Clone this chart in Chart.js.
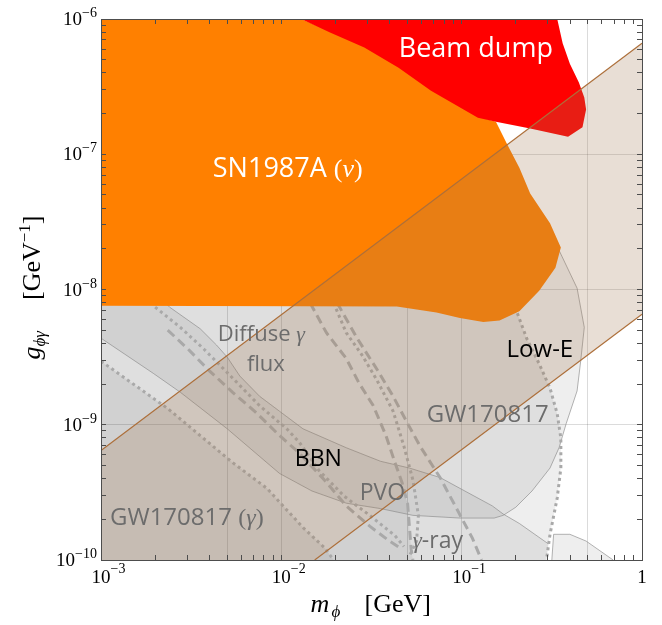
<!DOCTYPE html>
<html>
<head>
<meta charset="utf-8">
<script src="https://cdn.jsdelivr.net/npm/chart.js@4.4.1/dist/chart.umd.min.js"></script>
<style>
html,body{margin:0;padding:0;background:#ffffff;overflow:hidden;}
canvas{display:block;}
</style>
</head>
<body>
<canvas id="chart" width="662" height="625"></canvas>
<script>
// Every outline is a list of [log10(m_phi / GeV), log10(g_phi_gamma / GeV^-1)].
const sn1987aNu = [[-3,-6],[-1.89,-6],[-1.73,-6.09],[-1.54,-6.20],[-1.35,-6.35],[-1.17,-6.52],[-0.91,-6.72],[-0.81,-6.76],[-0.75,-6.92],[-0.68,-7.10],[-0.62,-7.29],[-0.51,-7.51],[-0.45,-7.69],[-0.48,-7.84],[-0.57,-8.01],[-0.68,-8.16],[-0.79,-8.23],[-0.88,-8.24],[-1.01,-8.21],[-1.14,-8.17],[-1.36,-8.125],[-3,-8.12]];
const beamDump = [[-1.89,-6],[-0.47,-6],[-0.44,-6.18],[-0.40,-6.33],[-0.35,-6.47],[-0.32,-6.58],[-0.31,-6.67],[-0.33,-6.80],[-0.41,-6.87],[-0.62,-6.81],[-0.81,-6.76],[-0.91,-6.73],[-1.17,-6.53],[-1.35,-6.36],[-1.54,-6.21],[-1.73,-6.10]];
const bandUpper = [[-3,-9.19],[0,-6.18]];
const bandLower = [[-1.815,-10],[0,-8.183]];
const bandArea = [[-3,-9.19],[0,-6.18],[0,-8.183],[-1.815,-10],[-3,-10]];
const gw170817 = [[-3,-8.0],[-3,-8.36],[-2.71,-8.62],[-2.56,-8.76],[-2.30,-9.03],[-2.01,-9.36],[-1.83,-9.49],[-1.64,-9.58],[-1.45,-9.62],[-1.27,-9.67],[-1.01,-9.69],[-0.82,-9.69],[-0.77,-9.67],[-0.70,-9.61],[-0.61,-9.49],[-0.51,-9.32],[-0.46,-9.17],[-0.42,-8.99],[-0.36,-8.75],[-0.34,-8.53],[-0.32,-8.28],[-0.36,-7.99],[-0.46,-7.71],[-0.51,-7.56],[-0.68,-7.34]];
const lowE = [[-3,-8.0],[-3,-10],[-0.53,-10],[-0.51,-9.81],[-0.47,-9.54],[-0.45,-9.32],[-0.45,-9.10],[-0.47,-8.92],[-0.51,-8.73],[-0.57,-8.55],[-0.64,-8.36],[-0.69,-8.18],[-0.76,-8.01],[-1.0,-7.9]];
const gammaRayEdge = [[-2.68,-8.05],[-2.62,-8.13],[-2.45,-8.29],[-2.36,-8.41],[-2.30,-8.50],[-2.23,-8.64],[-2.12,-8.79],[-2.01,-8.90],[-1.88,-9.03],[-1.64,-9.17],[-1.45,-9.27],[-1.29,-9.32],[-1.12,-9.39],[-1.01,-9.47],[-0.83,-9.60],[-0.77,-9.66],[-0.68,-9.73],[-0.52,-9.88]];
const gwGammaEdge = [[-3,-8.53],[-2.82,-8.70],[-2.63,-8.88],[-2.45,-9.08],[-2.27,-9.28],[-2.08,-9.47],[-1.88,-9.76],[-1.76,-9.91],[-1.71,-10]];
const highMassPatch = [[-0.50,-10],[-0.49,-9.81],[-0.40,-9.81],[-0.31,-9.86],[-0.16,-10]];
const pvoPatch = [[-1.815,-10],[-1.32,-9.505],[-1.30,-9.58],[-1.29,-9.75],[-1.28,-9.92],[-1.27,-10]];
const dottedA = [[-2.70,-8.13],[-2.56,-8.28],[-2.43,-8.44],[-2.34,-8.56],[-2.23,-8.71],[-2.12,-8.86],[-1.97,-9.03],[-1.90,-9.13],[-1.79,-9.34],[-1.65,-9.53],[-1.51,-9.67],[-1.37,-9.82],[-1.32,-9.90]];
const dashedA = [[-2.63,-8.30],[-2.51,-8.45],[-2.40,-8.60],[-2.27,-8.76],[-2.14,-8.91],[-2.01,-9.08],[-1.90,-9.21],[-1.76,-9.41],[-1.64,-9.60],[-1.51,-9.75],[-1.40,-9.86],[-1.33,-9.92]];
const dashedB = [[-1.84,-8.10],[-1.75,-8.32],[-1.64,-8.51],[-1.57,-8.69],[-1.49,-8.86],[-1.42,-9.08],[-1.37,-9.28],[-1.33,-9.43],[-1.30,-9.58],[-1.29,-9.75],[-1.28,-9.92],[-1.27,-10]];
const dottedB = [[-1.71,-8.10],[-1.64,-8.32],[-1.55,-8.49],[-1.47,-8.67],[-1.38,-8.90],[-1.32,-9.16],[-1.27,-9.41],[-1.24,-9.67],[-1.25,-9.86],[-1.29,-9.97]];
const dashedC = [[-1.69,-8.10],[-1.58,-8.36],[-1.47,-8.59],[-1.38,-8.79],[-1.30,-8.99],[-1.23,-9.16],[-1.12,-9.39],[-1.02,-9.64],[-0.94,-9.84],[-0.89,-10]];

// axis ticks
const xTickValues = [1e-3, 1e-2, 1e-1, 1];
const xTickBases = ['10','10','10','1'];
const xTickExps = ['−3','−2','−1',''];
const yTickValues = [1e-10, 1e-9, 1e-8, 1e-7, 1e-6];
const yTickBases = ['10','10','10','10','10'];
const yTickExps = ['−10','−9','−8','−7','−6'];
const xGridValues = [5e-3, 1e-2, 5e-2, 1e-1, 5e-1];
const yGridValues = [1e-9, 1e-8, 1e-7];

const SANS = '"Open Sans", "Noto Sans", sans-serif';
const SERIF = '"Liberation Serif", "DejaVu Serif", serif';
const GRAYTXT = '#6c6c6c';
const regionLabels = [
  {at:[-1.349,-6.281], color:'#ffffff', parts:[{t:'Beam dump', f:'27px '+SANS}]},
  {at:[-2.380,-7.170], color:'#ffffff', parts:[{t:'SN1987A ', f:'27px '+SANS},{t:'(', f:'26px '+SERIF},{t:'ν', f:'italic 26px '+SERIF},{t:')', f:'26px '+SERIF}]},
  {at:[-2.352,-8.378], color:GRAYTXT, parts:[{t:'Diffuse ', f:'22px '+SANS},{t:'γ', f:'italic 22px '+SERIF}]},
  {at:[-2.191,-8.600], color:GRAYTXT, parts:[{t:'flux', f:'22px '+SANS}]},
  {at:[-0.751,-8.496], color:'#000000', parts:[{t:'Low-E', f:'24px '+SANS}]},
  {at:[-1.194,-8.978], color:GRAYTXT, parts:[{t:'GW170817', f:'24px '+SANS}]},
  {at:[-1.925,-9.304], color:'#000000', parts:[{t:'BBN', f:'23px '+SANS}]},
  {at:[-1.565,-9.556], color:GRAYTXT, parts:[{t:'PVO', f:'23px '+SANS}]},
  {at:[-1.271,-9.911], color:GRAYTXT, parts:[{t:'γ', f:'italic 23px '+SERIF},{t:'-ray', f:'23px '+SANS}]},
  {at:[-2.950,-9.741], color:GRAYTXT, parts:[{t:'GW170817 ', f:'24px '+SANS},{t:'(', f:'24px '+SERIF},{t:'γ', f:'italic 24px '+SERIF},{t:')', f:'24px '+SERIF}]}
];

function pts(list){ return list.map(p => ({x: Math.pow(10, p[0]), y: Math.pow(10, p[1])})); }
function minorTicks(e0, e1){ const out=[]; for(let e=e0;e<e1;e++){ for(let k=1;k<10;k++) out.push(k*Math.pow(10,e)); } out.push(Math.pow(10,e1)); return out; }

const SHADE = 'rgba(0,0,0,0.068)';
const CLEAR = 'rgba(0,0,0,0)';
function area(list, color, order){ return {data: pts(list), showLine:true, fill:'shape', backgroundColor:color, borderColor:CLEAR, borderWidth:0, pointRadius:0, order:order}; }
function edge(list, color, width, dash, order){ return {data: pts(list), showLine:true, fill:false, borderColor:color, backgroundColor:CLEAR, borderWidth:width, borderDash:dash, borderCapStyle:'butt', pointRadius:0, order:order}; }

const LINEGRAY = 'rgba(135,135,135,0.8)';
const DASHGRAY = '#a9a9a9';
const DOT = [3,3.4];
const DASH = [9,5];
const datasets = [
  area(lowE, SHADE, 100),
  area(gw170817, SHADE, 99),
  area(gammaRayEdge.concat([[-0.53,-10],[-3,-10],[-3,-8.0]]), SHADE, 98),
  area(gwGammaEdge.concat([[-3,-10]]), SHADE, 97),
  area(highMassPatch, SHADE, 96),
  area(pvoPatch, SHADE, 96),
  edge(gw170817.slice(1, 23), LINEGRAY, 0.8, [], 95),
  edge(gammaRayEdge, LINEGRAY, 0.8, [], 95),
  edge(highMassPatch, LINEGRAY, 0.8, [], 95),
  edge(lowE.slice(2, 13).reverse(), DASHGRAY, 3, DOT, 94),
  edge(gwGammaEdge, DASHGRAY, 3, DOT, 94),
  edge(dottedA, DASHGRAY, 3, DOT, 94),
  edge(dottedB, DASHGRAY, 3, DOT, 94),
  edge(dashedA, DASHGRAY, 3, DASH, 94),
  edge(dashedB, DASHGRAY, 3, DASH, 94),
  edge(dashedC, DASHGRAY, 3, DASH, 94),
  area(sn1987aNu, '#ff8000', 90),
  area(beamDump, '#ff0000', 89),
  area(bandArea, 'rgba(161,120,83,0.244)', 80),
  edge(bandUpper, '#ad6f3a', 1.2, [], 70),
  edge(bandLower, '#ad6f3a', 1.2, [], 70)
];

function frameAxis(pos, e0, e1, horizontal, size){
  return {
    type:'logarithmic', position:pos, min:Math.pow(10,e0), max:Math.pow(10,e1),
    afterBuildTicks: s => { s.ticks = minorTicks(e0, e1).map(v => ({value:v})); },
    ticks:{display:false},
    grid:{display:true, drawOnChartArea:false, drawTicks:true, tickLength:-5, tickColor:'#4d4d4d', tickWidth:1, z:1},
    border:{display:true, color:'#4d4d4d', width:1, z:1},
    afterFit: s => { if (horizontal) s.height = size; else s.width = size; }
  };
}
function gridAxis(pos, e0, e1, horizontal, values){
  return {
    type:'logarithmic', position:pos, min:Math.pow(10,e0), max:Math.pow(10,e1),
    afterBuildTicks: s => { s.ticks = values.map(v => ({value:v})); },
    ticks:{display:false},
    grid:{display:true, drawOnChartArea:true, drawTicks:false, color:'rgba(0,0,0,0.14)', lineWidth:1, z:-1},
    border:{display:false},
    afterFit: s => { if (horizontal) s.height = 0; else s.width = 0; }
  };
}

function drawParts(ctx, x, y, parts){
  for (const p of parts){ ctx.font = p.f; ctx.fillText(p.t, x, y + (p.dy || 0)); x += ctx.measureText(p.t).width; }
}

const textPlugin = {
  id:'texts',
  afterDraw(chart){
    const ctx = chart.ctx, xs = chart.scales.x, ys = chart.scales.y, area = chart.chartArea;
    ctx.save();
    ctx.textBaseline = 'alphabetic'; ctx.textAlign = 'left';
    for (const lab of regionLabels){
      ctx.fillStyle = lab.color;
      drawParts(ctx, xs.getPixelForValue(Math.pow(10, lab.at[0])), ys.getPixelForValue(Math.pow(10, lab.at[1])), lab.parts);
    }
    ctx.fillStyle = '#000000';
    xTickValues.forEach((v, i) => {
      const px = xs.getPixelForValue(v);
      ctx.font = '19px ' + SERIF;
      const wb = ctx.measureText(xTickBases[i]).width;
      ctx.fillText(xTickBases[i], px - wb/2, area.bottom + 23);
      ctx.font = '14px ' + SERIF;
      ctx.fillText(xTickExps[i], px + wb/2, area.bottom + 13);
    });
    yTickValues.forEach((v, i) => {
      const py = ys.getPixelForValue(v);
      const right = area.left - 4;
      ctx.font = '14px ' + SERIF;
      const we = ctx.measureText(yTickExps[i]).width;
      ctx.fillText(yTickExps[i], right - we, py - 2);
      ctx.font = '19px ' + SERIF;
      const wb = ctx.measureText(yTickBases[i]).width;
      ctx.fillText(yTickBases[i], right - we - wb, py + 6);
    });
    const cx = (area.left + area.right) / 2;
    const by = 612;
    drawParts(ctx, cx - 61, by, [{t:'m', f:'italic 26px ' + SERIF}]);
    drawParts(ctx, cx - 40, by, [{t:'ϕ', f:'italic 17px ' + SERIF, dy:5}]);
    drawParts(ctx, cx - 7, by, [{t:'[GeV]', f:'26px ' + SERIF}]);
    const cy = (area.top + area.bottom) / 2;
    ctx.translate(40, cy);
    ctx.rotate(-Math.PI/2);
    drawParts(ctx, -70, 0, [{t:'g', f:'italic 26px ' + SERIF}]);
    drawParts(ctx, -57, 0, [{t:'ϕγ', f:'italic 17px ' + SERIF, dy:5}]);
    drawParts(ctx, -10.5, 0, [{t:'[GeV', f:'26px ' + SERIF},{t:'−1', f:'17px ' + SERIF, dy:-10},{t:']', f:'26px ' + SERIF}]);
    ctx.restore();
  }
};

new Chart(document.getElementById('chart'), {
  type:'scatter',
  data:{datasets: datasets},
  options:{
    responsive:false, animation:false, devicePixelRatio:1, events:[],
    layout:{padding:{top:19, right:20, left:0, bottom:0}},
    plugins:{legend:{display:false}, tooltip:{enabled:false}},
    elements:{line:{tension:0}},
    scales:{
      x: frameAxis('bottom', -3, 0, true, 65),
      xTop: frameAxis('top', -3, 0, true, 0),
      xGrid: gridAxis('top', -3, 0, true, xGridValues),
      y: frameAxis('left', -10, -6, false, 101),
      yRight: frameAxis('right', -10, -6, false, 0),
      yGrid: gridAxis('right', -10, -6, false, yGridValues)
    }
  },
  plugins:[textPlugin]
});
</script>
</body>
</html>
